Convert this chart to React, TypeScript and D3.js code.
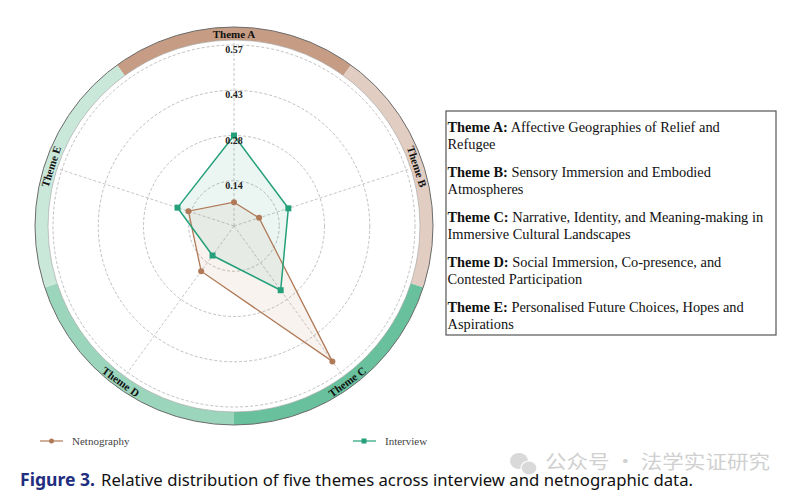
import React from "react";
import * as d3 from "d3";

const themes = ["Theme A", "Theme B", "Theme C", "Theme D", "Theme E"];
const interview = [0.285, 0.18, 0.25, 0.115, 0.187];
const netnography = [0.075, 0.083, 0.527, 0.176, 0.151];
const tickValues = [0.1425, 0.285, 0.4275, 0.57];
const tickLabels = ["0.14", "0.28", "0.43", "0.57"];
const ringColors = ["#c69d84", "#e1cdc1", "#68c09c", "#9bd5bc", "#cae8da"];
const seriesNames = ["Netnography", "Interview"];
const descTitles = ["Theme A:", "Theme B:", "Theme C:", "Theme D:", "Theme E:"];
const descLines = [
  ["Affective Geographies of Relief and", "Refugee"],
  ["Sensory Immersion and Embodied", "Atmospheres"],
  ["Narrative, Identity, and Meaning-making in", "Immersive Cultural Landscapes"],
  ["Social Immersion, Co-presence, and", "Contested Participation"],
  ["Personalised Future Choices, Hopes and", "Aspirations"],
];

const W = 796;
const H = 499;
const cx = 234;
const cy = 226;
const maxR = 181;
const ringIn = 186;
const ringOut = 199;
const serif = "'Liberation Serif', 'Times New Roman', serif";
const brown = "#b07a58";
const green = "#24a07a";

export default function App() {
  const r = d3.scaleLinear().domain([0, 0.57]).range([0, maxR]);
  const ang = d3
    .scalePoint<string>()
    .domain(themes)
    .range([0, (2 * Math.PI * (themes.length - 1)) / themes.length]);
  const step = (2 * Math.PI) / themes.length;

  const arc = d3.arc<any>().innerRadius(ringIn).outerRadius(ringOut);
  const line = d3
    .lineRadial<number>()
    .angle((_, i) => ang(themes[i]) as number)
    .radius((d) => r(d))
    .curve(d3.curveLinearClosed);

  const pt = (a: number, rad: number) => [Math.sin(a) * rad, -Math.cos(a) * rad];

  return (
    <svg
      width={W}
      height={H}
      style={{ position: "absolute", left: 0, top: 0, background: "#fff" }}
    >
      <rect width={W} height={H} fill="#fff" />
      <g transform={`translate(${cx},${cy})`}>
        {themes.map((t, i) => {
          const a = ang(t) as number;
          return (
            <path
              key={t}
              d={arc({ startAngle: a - step / 2, endAngle: a + step / 2 }) as string}
              fill={ringColors[i]}
            />
          );
        })}
        <circle r={ringOut} fill="none" stroke="#6b6b6b" strokeWidth={1} />
        <circle r={ringIn} fill="none" stroke="#a0a0a0" strokeWidth={0.6} />
        {tickValues.map((v) => (
          <circle
            key={v}
            r={r(v)}
            fill="none"
            stroke="#b0b0b0"
            strokeWidth={0.8}
            strokeDasharray="3,2"
          />
        ))}
        {themes.map((t) => {
          const [x, y] = pt(ang(t) as number, ringIn);
          return (
            <line
              key={t}
              x1={0}
              y1={0}
              x2={x}
              y2={y}
              stroke="#b8b8b8"
              strokeWidth={0.8}
              strokeDasharray="3,2"
            />
          );
        })}
        <path d={line(interview) as string} fill={green} fillOpacity={0.09} stroke="none" />
        <path d={line(netnography) as string} fill="#c98a6a" fillOpacity={0.1} stroke="none" />
        <path d={line(netnography) as string} fill="none" stroke={brown} strokeWidth={1.3} />
        <path d={line(interview) as string} fill="none" stroke={green} strokeWidth={1.5} />
        {netnography.map((v, i) => {
          const [x, y] = pt(ang(themes[i]) as number, r(v));
          return <circle key={i} cx={x} cy={y} r={3} fill={brown} />;
        })}
        {interview.map((v, i) => {
          const [x, y] = pt(ang(themes[i]) as number, r(v));
          return <rect key={i} x={x - 3} y={y - 3} width={6} height={6} fill={green} />;
        })}
        {tickValues.map((v, i) => (
          <text
            key={v}
            x={0}
            y={-r(v) + 4.5}
            textAnchor="middle"
            dominantBaseline="central"
            fontFamily={serif}
            fontWeight="bold"
            fontSize={10}
            fill="#222"
          >
            {tickLabels[i]}
          </text>
        ))}
        {themes.map((t) => {
          const a = ang(t) as number;
          const deg = (a * 180) / Math.PI;
          const [x, y] = pt(a, (ringIn + ringOut) / 2);
          const rot = deg > 90 && deg < 270 ? deg - 180 : deg > 270 ? deg - 360 : deg;
          return (
            <text
              key={t}
              transform={`translate(${x},${y}) rotate(${rot})`}
              textAnchor="middle"
              dominantBaseline="central"
              fontFamily={serif}
              fontWeight="bold"
              fontSize={11}
              fill="#111"
            >
              {t}
            </text>
          );
        })}
      </g>

      <g fontFamily={serif} fontSize={11} fill="#444">
        <line x1={40} x2={63} y1={441} y2={441} stroke={brown} strokeWidth={1.2} />
        <circle cx={51.5} cy={441} r={2.5} fill={brown} />
        <text x={72} y={441} dominantBaseline="central">
          {seriesNames[0]}
        </text>
        <line x1={353} x2={376} y1={441} y2={441} stroke={green} strokeWidth={1.2} />
        <rect x={361.5} y={438.5} width={5} height={5} fill={green} />
        <text x={385} y={441} dominantBaseline="central">
          {seriesNames[1]}
        </text>
      </g>

      <rect x={446} y={111} width={330} height={224} fill="#fff" stroke="#555" strokeWidth={1.2} />
      <g fontFamily={serif} fontSize={14.4} fill="#111">
        {descTitles.map((t, i) => (
          <g key={t}>
            <text x={447.5} y={127 + i * 45} dominantBaseline="central">
              <tspan fontWeight="bold">{t}</tspan> {descLines[i][0]}
            </text>
            <text x={447.5} y={144.3 + i * 45} dominantBaseline="central">
              {descLines[i][1]}
            </text>
          </g>
        ))}
      </g>

      <text
        x={20}
        y={486}
        fontFamily="'Noto Sans', sans-serif"
        fontSize={17}
        fontWeight="bold"
        fill="#1f2e7e"
        textLength={75}
        lengthAdjust="spacingAndGlyphs"
      >
        Figure 3.
      </text>
      <text
        x={101}
        y={486}
        fontFamily="'Noto Sans', sans-serif"
        fontSize={17}
        fill="#111"
        textLength={592}
        lengthAdjust="spacingAndGlyphs"
      >
        Relative distribution of five themes across interview and netnographic data.
      </text>

      <g opacity={0.55}>
        <ellipse cx={519} cy={461} rx={9} ry={8} fill="#bbb" />
        <ellipse cx={529} cy={468} rx={8} ry={7} fill="#bbb" stroke="#fff" strokeWidth={1.2} />
        <text
          x={545}
          y={469}
          fontFamily="'Noto Sans CJK SC', sans-serif"
          fontSize={19}
          fill="#aaa"
          textLength={225}
          lengthAdjust="spacingAndGlyphs"
        >
          公众号 · 法学实证研究
        </text>
      </g>
    </svg>
  );
}
